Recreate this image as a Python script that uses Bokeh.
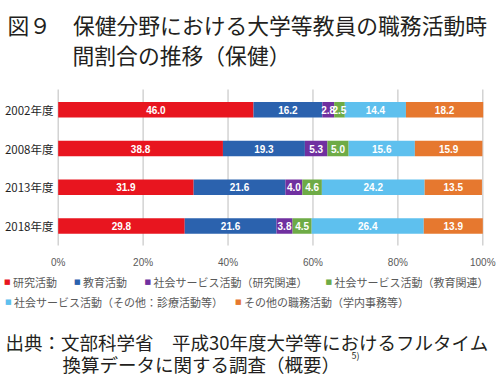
from bokeh.plotting import figure
from bokeh.models import ColumnDataSource, Range1d, Label, LabelSet
from bokeh.core.properties import value
from bokeh.embed import file_html
from bokeh.resources import INLINE

# ---- data ----
years = ["2002年度", "2008年度", "2013年度", "2018年度"]
research = [46.0, 38.8, 31.9, 29.8]
education = [16.2, 19.3, 21.6, 21.6]
social_research = [2.8, 5.3, 4.0, 3.8]
social_education = [2.5, 5.0, 4.6, 4.5]
social_other = [14.4, 15.6, 24.2, 26.4]
other_duties = [18.2, 15.9, 13.5, 13.9]
series_names = ["研究活動", "教育活動", "社会サービス活動（研究関連）",
                "社会サービス活動（教育関連）", "社会サービス活動（その他：診療活動等）",
                "その他の職務活動（学内事務等）"]
colors = ["#E8151F", "#2B62AE", "#7030A0", "#6EAB46", "#5EC0EE", "#E6782F"]
x_ticks = [0, 20, 40, 60, 80, 100]
x_tick_labels = ["0%", "20%", "40%", "60%", "80%", "100%"]
title_lines = ["図９　保健分野における大学等教員の職務活動時", "間割合の推移（保健）"]
source_lines = ["出典：文部科学省　平成30年度大学等におけるフルタイム",
                "換算データに関する調査（概要）"]
source_note = "5)"

series = [research, education, social_research, social_education, social_other, other_duties]
keys = ["s%d" % i for i in range(len(series))]

JP = "Noto Sans CJK JP"
W, H = 500, 379

# ---- layout constants (canvas pixels -> data) ----
PX_PER_PCT = 424.6 / 100.0        # 0% at x 57.7, 100% at x 482.3
X0_PX = 57.7
ROW_PX = 38.75                    # spacing of the category rows
Y0_PX = 225.6                     # centre of the bottom category row


def x_of(px):
    return (px - X0_PX) / PX_PER_PCT


def y_of(py):
    return (Y0_PX - py) / ROW_PX


p = figure(width=W, height=H, output_backend="svg", toolbar_location=None,
           x_range=Range1d(x_of(0), x_of(W)), y_range=Range1d(y_of(H), y_of(0)),
           x_axis_location=None, y_axis_location=None, min_border=0)
p.outline_line_color = None
p.xgrid.visible = False
p.ygrid.visible = False

# category positions: first category at the top
ypos = [len(years) - 1 - i for i in range(len(years))]

data = {"year": years, "y": ypos}
for k, s in zip(keys, series):
    data[k] = s
src = ColumnDataSource(data)

# vertical grid lines at the ticks
p.segment(x0=x_ticks, x1=x_ticks, y0=[y_of(89)] * len(x_ticks), y1=[y_of(245)] * len(x_ticks),
          line_color="#cccccc", line_width=1.3)

# stacked bars
p.hbar_stack(keys, y="y", height=15.5 / ROW_PX, color=colors, source=src, line_color=None)

# value labels
cum = [0.0] * len(years)
for k, s in zip(keys, series):
    mids = [c + v / 2 for c, v in zip(cum, s)]
    cum = [c + v for c, v in zip(cum, s)]
    lsrc = ColumnDataSource({"x": mids, "y": ypos, "t": ["%.1f" % v for v in s]})
    p.add_layout(LabelSet(x="x", y="y", text="t", source=lsrc, text_color="white",
                          text_font=value("Liberation Sans"), text_font_style="bold",
                          text_font_size="10px", text_align="center", text_baseline="middle"))

# category labels
csrc = ColumnDataSource({"x": [x_of(53)] * len(years), "y": ypos, "t": years})
p.add_layout(LabelSet(x="x", y="y", text="t", source=csrc, text_color="#1f1f1f",
                      text_font=value(JP), text_font_size="11.5px", text_align="right",
                      text_baseline="middle"))

# tick labels
tsrc = ColumnDataSource({"x": x_ticks, "y": [y_of(261.5)] * len(x_ticks), "t": x_tick_labels})
p.add_layout(LabelSet(x="x", y="y", text="t", source=tsrc, text_color="#595959",
                      text_font=value("Liberation Sans"), text_font_size="10px",
                      text_align="center", text_baseline="middle"))


def put(text, px, py, size, color="#231f20", font=JP):
    p.add_layout(Label(x=px, y=H - py, x_units="screen", y_units="screen", text=text,
                       text_font=font, text_font_size=size, text_color=color,
                       text_baseline="middle"))


# title
put(title_lines[0], 7, 24, "21.8px")
put(title_lines[1], 72, 54, "21.8px")

# legend
legend_pos = [(4, 281.7), (74, 281.7), (144.5, 281.7), (325.5, 281.7), (5, 301), (235, 301)]
for name, c, (lx, ly) in zip(series_names, colors, legend_pos):
    put("■", lx - 0.5, ly, "7px", color=c, font="DejaVu Sans")
    put(name, lx + 8.5, ly, "11px", color="#595959")

# source
put(source_lines[0], 5, 341.5, "18.5px")
put(source_lines[1], 62, 363, "18.5px")
put(source_note, 351, 355, "9px")

open("out.html", "w").write(file_html(p, INLINE))
